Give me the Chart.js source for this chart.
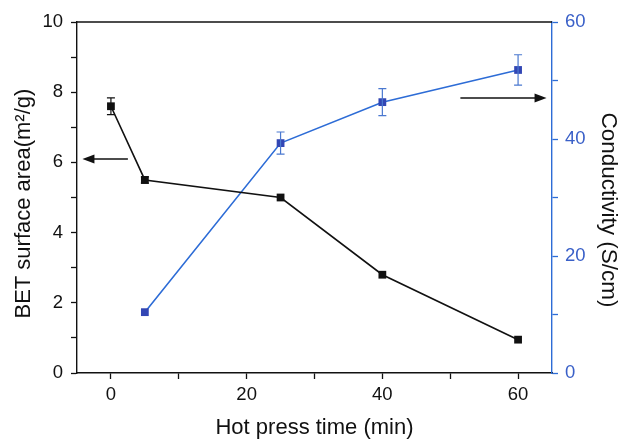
<!DOCTYPE html>
<html>
<head>
<meta charset="utf-8">
<script src="https://cdn.jsdelivr.net/npm/chart.js@4/dist/chart.umd.min.js"></script>
<style>
  html, body { margin: 0; padding: 0; background: #fff; }
  #wrap { width: 619px; height: 440px; }
</style>
</head>
<body>
<div id="wrap"><canvas id="chart" width="619" height="440"></canvas></div>
<script>
// BET surface area vs hot press time (left axis)
const betTime = [0, 5, 25, 40, 60];
const betArea = [7.6, 5.5, 5.0, 2.8, 0.95];
const betErr  = [0.24, 0.09, 0, 0, 0];

// Conductivity vs hot press time (right axis)
const condTime     = [5, 25, 40, 60];
const conductivity = [10.4, 39.3, 46.3, 51.8];
const condErr      = [0, 1.9, 2.3, 2.6];

// tick values
const xTicks     = [0, 10, 20, 30, 40, 50, 60];
const xLabeled   = [0, 20, 40, 60];
const betTicks   = [0, 1, 2, 3, 4, 5, 6, 7, 8, 9, 10];
const betLabeled = [0, 2, 4, 6, 8, 10];
const condTicks  = [0, 10, 20, 30, 40, 50, 60];
const condLabeled = [0, 20, 40, 60];

// arrows pointing at the axis each curve belongs to
const arrows = [
  { from: 2.5, to: -4.2, y: 6.1, axis: 'y' },
  { from: 51.5, to: 64.2, y: 47.0, axis: 'y1' },
];

const BLUE      = '#2d6cd6';
const BLUE_MARK = '#3246b4';
const BLUE_TEXT = '#3a60c8';
const FONT = "'Liberation Sans', Arial, sans-serif";

Chart.defaults.font.family = FONT;
Chart.defaults.color = '#111';

const toXY = (xs, ys) => xs.map((x, i) => ({ x, y: ys[i] }));
const setTicks = vals => scale => { scale.ticks = vals.map(v => ({ value: v })); };

const errorBars = {
  id: 'errorBars',
  afterDatasetsDraw(chart) {
    const { ctx } = chart;
    const sx = chart.scales.x;
    const sets = [
      { xs: betTime, ys: betArea, err: betErr, scale: chart.scales.y, color: '#111' },
      { xs: condTime, ys: conductivity, err: condErr, scale: chart.scales.y1, color: '#4a78d0' },
    ];
    ctx.save();
    ctx.lineWidth = 1.2;
    sets.forEach(s => {
      ctx.strokeStyle = s.color;
      s.xs.forEach((xv, i) => {
        if (!s.err[i]) return;
        const px = sx.getPixelForValue(xv);
        const top = s.scale.getPixelForValue(s.ys[i] + s.err[i]);
        const bot = s.scale.getPixelForValue(s.ys[i] - s.err[i]);
        ctx.beginPath();
        ctx.moveTo(px, top); ctx.lineTo(px, bot);
        ctx.moveTo(px - 4, top); ctx.lineTo(px + 4, top);
        ctx.moveTo(px - 4, bot); ctx.lineTo(px + 4, bot);
        ctx.stroke();
      });
    });
    ctx.restore();
  },
};

const frame = {
  id: 'frame',
  beforeDatasetsDraw(chart) {
    const { ctx, chartArea: a } = chart;
    ctx.save();
    ctx.strokeStyle = '#111';
    ctx.lineWidth = 1.4;
    ctx.beginPath();
    ctx.moveTo(a.left, a.top);
    ctx.lineTo(a.right, a.top);
    ctx.stroke();
    ctx.restore();
  },
  afterDraw(chart) {
    const { ctx } = chart;
    const sx = chart.scales.x;
    ctx.save();
    ctx.strokeStyle = '#111';
    ctx.fillStyle = '#111';
    ctx.lineWidth = 1.5;
    arrows.forEach(a => {
      const sy = chart.scales[a.axis];
      const x0 = sx.getPixelForValue(a.from);
      const x1 = sx.getPixelForValue(a.to);
      const y = sy.getPixelForValue(a.y);
      const dir = Math.sign(x1 - x0);
      ctx.beginPath();
      ctx.moveTo(x0, y);
      ctx.lineTo(x1 - dir * 10, y);
      ctx.stroke();
      ctx.beginPath();
      ctx.moveTo(x1, y);
      ctx.lineTo(x1 - dir * 12, y - 4.5);
      ctx.lineTo(x1 - dir * 12, y + 4.5);
      ctx.closePath();
      ctx.fill();
    });
    ctx.restore();
  },
};

new Chart(document.getElementById('chart'), {
  type: 'scatter',
  data: {
    datasets: [
      {
        label: 'BET surface area',
        data: toXY(betTime, betArea),
        yAxisID: 'y',
        showLine: true,
        borderColor: '#111',
        borderWidth: 1.6,
        pointStyle: 'rect',
        pointRadius: 5.5,
        pointBackgroundColor: '#111',
        pointBorderColor: '#111',
        pointBorderWidth: 0,
      },
      {
        label: 'Conductivity',
        data: toXY(condTime, conductivity),
        yAxisID: 'y1',
        showLine: true,
        borderColor: BLUE,
        borderWidth: 1.6,
        pointStyle: 'rect',
        pointRadius: 5.5,
        pointBackgroundColor: BLUE_MARK,
        pointBorderColor: BLUE_MARK,
        pointBorderWidth: 0,
      },
    ],
  },
  options: {
    responsive: false,
    animation: false,
    layout: { padding: { top: 22, left: 0, right: 0, bottom: 0 } },
    plugins: { legend: { display: false }, tooltip: { enabled: false } },
    scales: {
      x: {
        type: 'linear', min: -5, max: 65,
        afterBuildTicks: setTicks(xTicks),
        afterFit: s => { s.height = 67; },
        grid: { drawOnChartArea: false, tickLength: 6, color: '#111', tickWidth: 1.3 },
        border: { color: '#111', width: 1.4 },
        ticks: {
          color: '#111', padding: 5, maxRotation: 0, autoSkip: false,
          font: { size: 18.5 },
          callback: v => (xLabeled.includes(v) ? v : ''),
        },
        title: {
          display: true, text: 'Hot press time (min)', color: '#111',
          font: { size: 22 }, padding: { top: 0, bottom: -1 },
        },
      },
      y: {
        type: 'linear', position: 'left', min: 0, max: 10,
        afterBuildTicks: setTicks(betTicks),
        afterFit: s => { s.width = 77; },
        grid: { drawOnChartArea: false, tickLength: 6, color: '#111', tickWidth: 1.3 },
        border: { color: '#111', width: 1.4 },
        ticks: {
          color: '#111', padding: 8, autoSkip: false,
          font: { size: 18.5 },
          callback: v => (betLabeled.includes(v) ? v : ''),
        },
        title: {
          display: true, text: 'BET surface area(m\u00b2/g)  ', color: '#111',
          font: { size: 22 }, padding: { top: 11, bottom: 0 },
        },
      },
      y1: {
        type: 'linear', position: 'right', min: 0, max: 60,
        afterBuildTicks: setTicks(condTicks),
        afterFit: s => { s.width = 67; },
        grid: { drawOnChartArea: false, tickLength: 6, color: BLUE, tickWidth: 1.3 },
        border: { color: BLUE, width: 1.4 },
        ticks: {
          color: BLUE_TEXT, padding: 7, autoSkip: false,
          font: { size: 18.5 },
          callback: v => (condLabeled.includes(v) ? v : ''),
        },
        title: {
          display: true, text: '    Conductivity (S/cm)', color: '#111',
          font: { size: 22.5 }, padding: { top: -3, bottom: 0 },
        },
      },
    },
  },
  plugins: [errorBars, frame],
});
</script>
</body>
</html>
